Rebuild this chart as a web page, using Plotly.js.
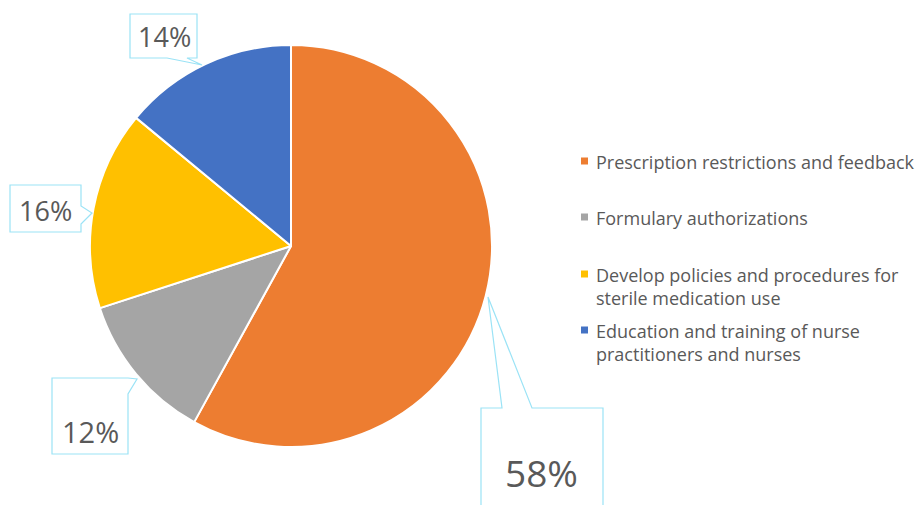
<!DOCTYPE html>
<html>
<head>
<meta charset="utf-8">
<script src="https://cdn.plot.ly/plotly-3.0.1.min.js"></script>
<style>html,body{margin:0;padding:0;background:#fff;}#chart{width:922px;height:505px;}</style>
</head>
<body>
<div id="chart"></div>
<script>
// ---- data ----
const categories = [
  "Prescription restrictions and feedback",
  "Formulary authorizations",
  "Develop policies and procedures for<br>sterile medication use",
  "Education and training of nurse<br>practitioners and nurses"
];
const shares = [58, 12, 16, 14];
const sliceColors = ["#ED7D31", "#A5A5A5", "#FFC000", "#4472C4"];

// ---- layout helpers (pixel -> paper) ----
const W = 922, H = 505;
const px = x => x / W;
const py = y => 1 - y / H;
function pathFrom(points) {
  return "M" + points.map(p => px(p[0]).toFixed(5) + "," + py(p[1]).toFixed(5)).join(" L") + " Z";
}

// callout geometry (label boxes with pointers), in slice order
const callouts = [
  { pts: [[481,408],[502,408],[488,297],[532,408],[603,408],[603,540],[481,540]], cx: 541, cy: 472, size: 37 },
  { pts: [[52,378],[128,378],[137,379],[128,394],[128,454],[52,454]], cx: 90, cy: 431, size: 29 },
  { pts: [[10,185],[81,185],[81,206],[92,213],[81,224],[81,232],[10,232]], cx: 45, cy: 211, size: 27 },
  { pts: [[130,14],[197,14],[197,58],[187,58],[202,65],[167,58],[130,58]], cx: 164, cy: 37, size: 27 }
];

const shapes = callouts.map(c => ({
  type: "path", xref: "paper", yref: "paper", path: pathFrom(c.pts),
  line: { color: "#9BE3F6", width: 1.2 }, fillcolor: "rgba(255,255,255,1)", layer: "above"
}));
const annotations = callouts.map((c, i) => ({
  xref: "paper", yref: "paper", x: px(c.cx), y: py(c.cy), xanchor: "center", yanchor: "middle",
  text: shares[i] + "%", showarrow: false,
  font: { family: "Open Sans, sans-serif", size: c.size, color: "#595959" }
}));

// legend (right side): marker squares + labels, one row per slice
const legendRowY = [161, 217, 274, 330];   // first-line centre of each entry (px)
categories.forEach((cat, i) => {
  const yc = legendRowY[i];
  shapes.push({
    type: "rect", xref: "paper", yref: "paper",
    x0: px(581), x1: px(588), y0: py(yc + 3.5), y1: py(yc - 3.5),
    fillcolor: sliceColors[i], line: { width: 0 }
  });
  annotations.push({
    xref: "paper", yref: "paper", x: px(594), y: py(yc - 13), xanchor: "left", yanchor: "top",
    align: "left", text: cat, showarrow: false,
    font: { family: "Open Sans, sans-serif", size: 18, color: "#595959" }
  });
});

const trace = {
  type: "pie",
  labels: categories,
  values: shares,
  sort: false,
  direction: "clockwise",
  rotation: 0,
  textinfo: "none",
  hoverinfo: "label+percent",
  marker: { colors: sliceColors, line: { color: "#FFFFFF", width: 2 } },
  domain: { x: [px(90), px(492)], y: [py(447), py(45)] }
};

const layout = {
  width: W, height: H,
  margin: { l: 0, r: 0, t: 0, b: 0 },
  paper_bgcolor: "#FFFFFF",
  showlegend: false,
  shapes: shapes,
  annotations: annotations
};

Plotly.newPlot("chart", [trace], layout, { displayModeBar: false, staticPlot: true });
</script>
</body>
</html>
